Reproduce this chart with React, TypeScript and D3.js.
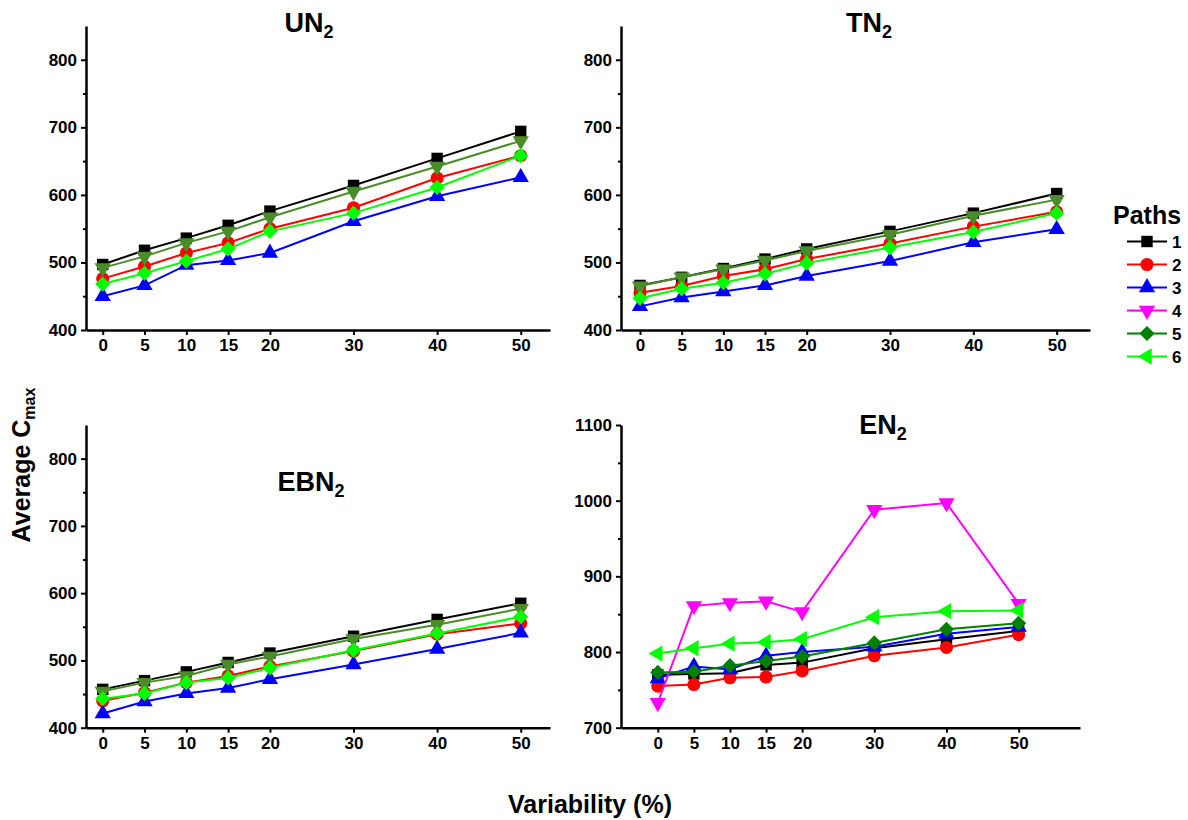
import { useEffect, useRef } from "react"
import * as d3 from "d3"

const variability = [0, 5, 10, 15, 20, 30, 40, 50]
const pathNames = ["1", "2", "3", "4", "5", "6"]

// paths 1..5 for the three "linear" panels
const un2Values = [
  [497, 518, 536, 555, 576, 614, 654, 694],
  [476, 494, 514, 529, 550, 581, 625, 658],
  [450, 466, 496, 503, 514, 561, 598, 626],
  [492, 509, 529, 546, 567, 605, 642, 680],
  [468, 484, 502, 520, 546, 573, 611, 658],
]
const tn2Values = [
  [466, 478, 491, 505, 520, 546, 573, 602],
  [455, 465, 480, 490, 505, 528, 553, 575],
  [435, 448, 457, 466, 480, 502, 530, 549],
  [465, 478, 490, 503, 517, 541, 569, 593],
  [447, 461, 470, 483, 499, 522, 545, 573],
]
const ebn2Values = [
  [457, 470, 483, 497, 511, 536, 561, 585],
  [440, 452, 467, 477, 491, 514, 539, 555],
  [421, 439, 451, 459, 472, 494, 517, 541],
  [454, 467, 477, 494, 506, 532, 553, 577],
  [443, 451, 467, 474, 489, 515, 540, 565],
]
// paths 1..6
const en2Values = [
  [770, 771, 772, 783, 786, 805, 817, 828],
  [755, 757, 766, 767, 775, 795, 806, 823],
  [765, 781, 777, 795, 800, 807, 824, 833],
  [733, 861, 865, 867, 853, 988, 997, 864],
  [773, 774, 782, 788, 794, 812, 830, 838],
  [798, 805, 811, 813, 817, 846, 854, 855],
]

const lowTicks = [400, 500, 600, 700, 800]
const lowMinor = [450, 550, 650, 750]
const highTicks = [700, 800, 900, 1000, 1100]
const highMinor = [750, 850, 950, 1050]

const stylesA = [
  { color: "#000000", shape: "square" },
  { color: "#ff0000", shape: "circle" },
  { color: "#0000ff", shape: "up" },
  { color: "#4b8c2a", shape: "down" },
  { color: "#00ff00", shape: "diamond" },
]
const stylesB = [
  { color: "#000000", shape: "square" },
  { color: "#ff0000", shape: "circle" },
  { color: "#0000ff", shape: "up" },
  { color: "#ff00ff", shape: "down" },
  { color: "#008000", shape: "diamond" },
  { color: "#00ff00", shape: "left" },
]

const FONT = "Arial, 'Liberation Sans', sans-serif"

const panels = [
  { name: "UN", values: un2Values, styles: stylesA, xr: [86, 550], xd: [-2, 53.5], yr: [330, 26], yd: [400, 850], ticks: lowTicks, minor: lowMinor, title: [309, 32] },
  { name: "TN", values: tn2Values, styles: stylesA, xr: [621, 1090], xd: [-2.28, 54], yr: [330, 26], yd: [400, 850], ticks: lowTicks, minor: lowMinor, title: [869, 32] },
  { name: "EBN", values: ebn2Values, styles: stylesA, xr: [86, 550], xd: [-2, 53.5], yr: [727.7, 425], yd: [400, 850], ticks: lowTicks, minor: lowMinor, title: [311, 491] },
  { name: "EN", values: en2Values, styles: stylesB, xr: [621, 1080], xd: [-5.1, 58.5], yr: [727.7, 425], yd: [700, 1100], ticks: highTicks, minor: highMinor, title: [883, 434] },
]

function marker(shape) {
  if (shape === "square") return { d: d3.symbol(d3.symbolSquare, 130)(), rot: 0 }
  if (shape === "circle") return { d: d3.symbol(d3.symbolCircle, 135)(), rot: 0 }
  if (shape === "diamond") return { d: d3.symbol(d3.symbolSquare, 115)(), rot: 45 }
  const d = d3.symbol(d3.symbolTriangle, 115)()
  if (shape === "down") return { d, rot: 180 }
  if (shape === "left") return { d, rot: -90 }
  return { d, rot: 0 }
}

const App = () => {
  const svgRef = useRef(null)

  useEffect(() => {
    const svg = d3.select(svgRef.current)
    svg.selectAll("*").remove()

    panels.forEach((p) => {
      const x = d3.scaleLinear().domain(p.xd).range(p.xr)
      const y = d3.scaleLinear().domain(p.yd).range(p.yr)
      const g = svg.append("g")

      // axes
      const xAxis = g.append("g")
        .attr("transform", `translate(0,${p.yr[0]})`)
        .call(d3.axisBottom(x).tickValues(variability).tickSize(5).tickSizeOuter(0).tickPadding(4).tickFormat(d3.format("d")))
      const yAxis = g.append("g")
        .attr("transform", `translate(${p.xr[0]},0)`)
        .call(d3.axisLeft(y).tickValues(p.ticks).tickSize(5).tickSizeOuter(0).tickPadding(4).tickFormat(d3.format("d")))
      g.append("g")
        .attr("transform", `translate(${p.xr[0]},0)`)
        .call(d3.axisLeft(y).tickValues(p.minor).tickSize(3).tickSizeOuter(0).tickFormat(() => ""))
        .select(".domain").remove()
      ;[xAxis, yAxis].forEach((a) => {
        a.select(".domain").attr("stroke", "#000").attr("stroke-width", 2.5)
        a.selectAll(".tick text")
          .attr("fill", "#000")
          .style("font-family", FONT)
          .style("font-size", "17px")
          .style("font-weight", "bold")
      })
      g.selectAll(".tick line").attr("stroke", "#000").attr("stroke-width", 2)

      // title
      const t = g.append("text")
        .attr("x", p.title[0])
        .attr("y", p.title[1])
        .attr("text-anchor", "middle")
        .style("font-family", FONT)
        .style("font-size", "27px")
        .style("font-weight", "bold")
      t.append("tspan").text(p.name)
      t.append("tspan").attr("dy", 6).style("font-size", "18px").text("2")

      // series
      const line = d3.line().x((d, i) => x(variability[i])).y((d) => y(d))
      p.values.forEach((vals, si) => {
        const st = p.styles[si]
        g.append("path")
          .attr("d", line(vals))
          .attr("fill", "none")
          .attr("stroke", st.color)
          .attr("stroke-width", 2)
        const m = marker(st.shape)
        g.append("g")
          .selectAll("path")
          .data(vals)
          .enter()
          .append("path")
          .attr("d", m.d)
          .attr("transform", (d, i) => `translate(${x(variability[i])},${y(d)}) rotate(${m.rot})`)
          .attr("fill", st.color)
      })
    })

    // legend
    const lg = svg.append("g").attr("transform", "translate(1113,0)")
    lg.append("text")
      .attr("x", 0)
      .attr("y", 224)
      .style("font-family", FONT)
      .style("font-size", "25px")
      .style("font-weight", "bold")
      .text("Paths")
    const item = lg.selectAll("g.item")
      .data(pathNames)
      .enter()
      .append("g")
      .attr("transform", (d, i) => `translate(0,${241.5 + i * 23})`)
    item.append("line")
      .attr("x1", 14).attr("x2", 54)
      .attr("stroke", (d, i) => stylesB[i].color)
      .attr("stroke-width", 2)
    item.append("path")
      .attr("d", (d, i) => marker(stylesB[i].shape).d)
      .attr("transform", (d, i) => `translate(34,0) rotate(${marker(stylesB[i].shape).rot})`)
      .attr("fill", (d, i) => stylesB[i].color)
    item.append("text")
      .attr("x", 59)
      .attr("dy", "0.36em")
      .style("font-family", FONT)
      .style("font-size", "17px")
      .style("font-weight", "bold")
      .text((d) => d)

    // shared axis labels
    const yl = svg.append("text")
      .attr("transform", "translate(30,465) rotate(-90)")
      .attr("text-anchor", "middle")
      .style("font-family", FONT)
      .style("font-size", "25px")
      .style("font-weight", "bold")
    yl.append("tspan").text("Average C")
    yl.append("tspan").attr("dy", 5).style("font-size", "16px").text("max")

    svg.append("text")
      .attr("x", 590)
      .attr("y", 813)
      .attr("text-anchor", "middle")
      .style("font-family", FONT)
      .style("font-size", "25px")
      .style("font-weight", "bold")
      .text("Variability (%)")
  }, [])

  return (
    <svg
      ref={svgRef}
      width={1188}
      height={820}
      style={{ position: "absolute", left: 0, top: 0, background: "#fff" }}
    ></svg>
  )
}

export default App
